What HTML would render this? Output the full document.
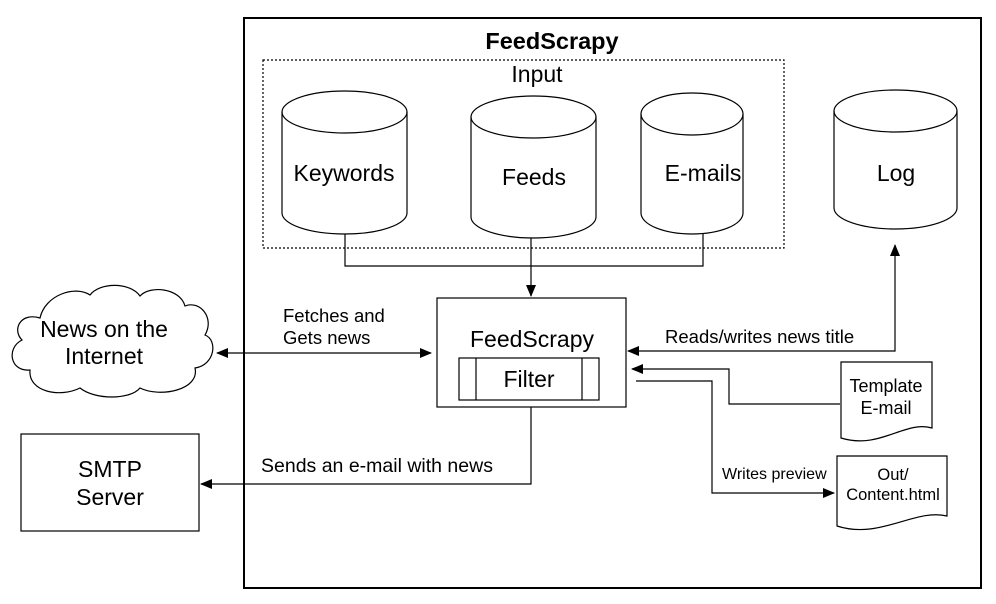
<!DOCTYPE html>
<html><head><meta charset="utf-8"><style>
html,body{margin:0;padding:0;background:#fff}
svg{display:block}
text{font-family:"Liberation Sans",sans-serif;fill:#000}
</style></head><body>
<svg width="996" height="604" viewBox="0 0 996 604" xmlns="http://www.w3.org/2000/svg">
<defs>
<marker id="a" markerWidth="12" markerHeight="10" refX="11" refY="5" orient="auto" markerUnits="userSpaceOnUse">
<path d="M0,0 L12,5 L0,10 Z" fill="#000"/></marker>
<marker id="s" markerWidth="12" markerHeight="10" refX="1" refY="5" orient="auto" markerUnits="userSpaceOnUse">
<path d="M12,0 L0,5 L12,10 Z" fill="#000"/></marker>
</defs>
<g fill="none" stroke="#000" stroke-width="1.2">
<rect x="244" y="18" width="737" height="570" stroke-width="2"/>
<rect x="263" y="60" width="521" height="188" stroke-dasharray="2,2"/>
<path d="M282,112 A62.5,21 0 0 1 407,112 L407,213 A62.5,21 0 0 1 282,213 Z" fill="#fff"/>
<path d="M282,112 A62.5,21 0 0 0 407,112"/>
<path d="M471,117 A62.5,21 0 0 1 596,117 L596,217 A62.5,21 0 0 1 471,217 Z" fill="#fff"/>
<path d="M471,117 A62.5,21 0 0 0 596,117"/>
<path d="M641,114 A51,21 0 0 1 743,114 L743,213 A51,21 0 0 1 641,213 Z" fill="#fff"/>
<path d="M641,114 A51,21 0 0 0 743,114"/>
<path d="M834,111 A61.5,21 0 0 1 957,111 L957,208 A61.5,21 0 0 1 834,208 Z" fill="#fff"/>
<path d="M834,111 A61.5,21 0 0 0 957,111"/>
<path d="M345,234 L345,266 L703,266 L703,234"/>
<path d="M531,238 L531,296" marker-end="url(#a)"/>
<rect x="437" y="298" width="189" height="109"/>
<rect x="459" y="358" width="140" height="42"/>
<path d="M476,358 V400 M582,358 V400"/>
<path d="M40,318 C20,312 12,330 22,340 C6,348 10,372 30,370 C28,392 60,398 80,388 C95,400 130,400 140,388 C160,398 200,390 195,368 C215,365 218,340 205,335 C215,318 200,300 185,306 C180,288 150,285 140,296 C130,282 100,282 90,295 C75,285 45,295 40,318 Z"/>
<path d="M217,353 L431,353" marker-start="url(#s)" marker-end="url(#a)"/>
<path d="M895,245 L895,351 L628,351" marker-start="url(#s)" marker-end="url(#a)"/>
<path d="M841,362 L932,362 L932,428 C905,420 880,450 841,438 Z" fill="#fff"/>
<path d="M840,404 L729,404 L729,369 L632,369" marker-end="url(#a)"/>
<path d="M636,381 L712,381 L712,493 L834,493" marker-end="url(#a)"/>
<path d="M837,456 L947,456 L947,516 C915,508 880,540 837,526 Z" fill="#fff"/>
<rect x="21" y="434" width="178" height="97"/>
<path d="M531,407 L531,484 L201,484" marker-end="url(#a)"/>
</g>
<g text-anchor="middle">
<text x="552" y="49" font-size="23.5" font-weight="bold">FeedScrapy</text>
<text x="537" y="82" font-size="23">Input</text>
<text x="344" y="181" font-size="23">Keywords</text>
<text x="534" y="185" font-size="23">Feeds</text>
<text x="703" y="181" font-size="23">E-mails</text>
<text x="896" y="181" font-size="23">Log</text>
<text x="532" y="347" font-size="23">FeedScrapy</text>
<text x="529" y="387" font-size="23">Filter</text>
<text x="104" y="337" font-size="23">News on the</text>
<text x="104" y="364" font-size="23">Internet</text>
<text x="110" y="477" font-size="23">SMTP</text>
<text x="110" y="505" font-size="23">Server</text>
<text x="886" y="392" font-size="18">Template</text>
<text x="886" y="414" font-size="18">E-mail</text>
<text x="893" y="480" font-size="16.5">Out/</text>
<text x="893" y="500" font-size="16.5">Content.html</text>
</g>
<text x="283" y="322" font-size="18.5">Fetches and</text>
<text x="283" y="344" font-size="18.5">Gets news</text>
<text x="665" y="343" font-size="18.5">Reads/writes news title</text>
<text x="722" y="479" font-size="16">Writes preview</text>
<text x="261" y="472" font-size="19.5">Sends an e-mail with news</text>
</svg>
</body></html>
